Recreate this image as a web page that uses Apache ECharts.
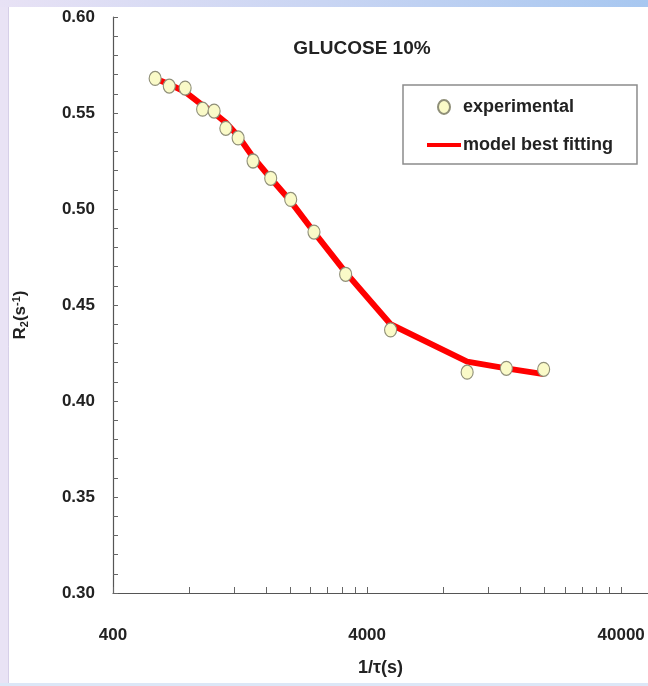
<!DOCTYPE html>
<html>
<head>
<meta charset="utf-8">
<script src="https://cdn.jsdelivr.net/npm/echarts@6/dist/echarts.min.js"></script>
<style>
  html, body { margin: 0; padding: 0; background: #fff; }
  #chart { width: 648px; height: 686px; }
</style>
</head>
<body>
<div id="chart"></div>
<script>
// Relaxation rate R2 versus exchange rate 1/tau, glucose 10 %
const tauInv = [586, 666, 769, 901, 1000, 1112, 1243, 1423, 1670, 2002, 2472, 3293, 4949, 9904, 14130, 19810];
const r2Experimental = [0.568, 0.564, 0.563, 0.552, 0.551, 0.542, 0.537, 0.525, 0.516, 0.505, 0.488, 0.466, 0.437, 0.415, 0.417, 0.4165];
const r2Model = [0.568, 0.565, 0.561, 0.554, 0.550, 0.545, 0.538, 0.527, 0.516, 0.504, 0.488, 0.467, 0.440, 0.4205, 0.417, 0.414];

// Log axis: labelled decades and the minor ticks in between
const xMin = 400;
const xMax = 51000;
const xLabels = [400, 4000, 40000];
const xTicks = [400, 800, 1200, 1600, 2000, 2400, 2800, 3200, 3600,
                4000, 8000, 12000, 16000, 20000, 24000, 28000, 32000, 36000, 40000];

const yMin = 0.30, yMax = 0.60, yStep = 0.05;

const lg = v => Math.log10(v);
const FONT = 'Liberation Sans, Arial, sans-serif';

const chart = echarts.init(document.getElementById('chart'), null, { renderer: 'canvas' });

chart.setOption({
  backgroundColor: '#ffffff',
  animation: false,
  graphic: [
    { type: 'rect', shape: { x: 0, y: 0, width: 9, height: 686 }, style: { fill: '#e9e3f5' }, silent: true },
    { type: 'line', shape: { x1: 8.5, y1: 7, x2: 8.5, y2: 686 }, style: { stroke: '#d6cfe8', lineWidth: 1 }, silent: true },
    { type: 'rect', shape: { x: 0, y: 0, width: 648, height: 7 },
      style: { fill: new echarts.graphic.LinearGradient(0, 0, 1, 0, [
        { offset: 0, color: '#e8e2f5' }, { offset: 0.5, color: '#c9d5f3' }, { offset: 1, color: '#a7c7f0' }]) },
      silent: true },
    { type: 'rect', shape: { x: 0, y: 683, width: 648, height: 3 }, style: { fill: '#dce7f7' }, silent: true }
  ],
  title: {
    text: 'GLUCOSE 10%',
    left: 362,
    top: 39,
    textAlign: 'center',
    padding: 0,
    textStyle: { fontFamily: FONT, fontSize: 19, fontWeight: 'bold', color: '#222' }
  },
  legend: {
    orient: 'vertical',
    left: 403,
    top: 85,
    padding: [13, 24, 10, 24],
    itemWidth: 34,
    itemHeight: 14,
    itemGap: 20,
    borderColor: '#8c8c8c',
    borderWidth: 1.5,
    backgroundColor: '#ffffff',
    textStyle: { fontFamily: FONT, fontSize: 18, fontWeight: 'bold', color: '#222', padding: [0, 0, 0, -3] },
    data: [
      { name: 'experimental', icon: 'path://M6,0 A6,7 0 1,1 6,14 A6,7 0 1,1 6,0 Z' },
      { name: 'model best fitting', icon: 'path://M0,0 H34 V4 H0 Z',
        itemStyle: { color: '#ff0000', borderWidth: 0 } }
    ]
  },
  grid: { left: 113, right: 0, top: 17, bottom: 93, containLabel: false },
  xAxis: {
    type: 'value',
    min: lg(xMin),
    max: lg(xMax),
    name: '1/τ(s)',
    nameLocation: 'middle',
    nameGap: 66,
    nameTextStyle: { fontFamily: FONT, fontSize: 18, fontWeight: 'bold', color: '#222' },
    axisLine: { show: true, lineStyle: { color: '#555', width: 1.2 } },
    axisTick: { show: true, inside: true, length: 6, lineStyle: { color: '#666' },
                customValues: xTicks.map(lg) },
    axisLabel: { show: true, margin: 34, fontFamily: FONT, fontSize: 17, fontWeight: 'bold', color: '#222',
                 customValues: xLabels.map(lg),
                 formatter: v => String(Math.round(Math.pow(10, v))) },
    splitLine: { show: false }
  },
  yAxis: {
    type: 'value',
    min: yMin,
    max: yMax,
    interval: yStep,
    name: 'R{sub|2}(s{sup|-1})',
    nameLocation: 'middle',
    nameGap: 83,
    nameRotate: 90,
    nameTextStyle: {
      fontFamily: FONT, fontSize: 17, fontWeight: 'bold', color: '#222',
      padding: [0, 20, 0, 0],
      rich: {
        sub: { fontFamily: FONT, fontSize: 11, fontWeight: 'bold', color: '#222', verticalAlign: 'bottom', padding: [8, 0, 0, 0] },
        sup: { fontFamily: FONT, fontSize: 11, fontWeight: 'bold', color: '#222', verticalAlign: 'top', padding: [0, 0, 8, 0] }
      }
    },
    axisLine: { show: true, lineStyle: { color: '#555', width: 1.2 } },
    axisTick: { show: true, inside: true, length: 5, lineStyle: { color: '#666' } },
    minorTick: { show: true, splitNumber: 5, length: 5, lineStyle: { color: '#666' } },
    axisLabel: { margin: 18, fontFamily: FONT, fontSize: 17, fontWeight: 'bold', color: '#222',
                 formatter: v => v.toFixed(2) },
    splitLine: { show: false }
  },
  series: [
    {
      name: 'model best fitting',
      type: 'line',
      data: tauInv.map((t, i) => [lg(t), r2Model[i]]),
      symbol: 'none',
      color: '#ff0000',
      lineStyle: { color: '#ff0000', width: 6 },
      z: 2
    },
    {
      name: 'experimental',
      type: 'scatter',
      data: tauInv.map((t, i) => [lg(t), r2Experimental[i]]),
      symbol: 'circle',
      symbolSize: [12, 14],
      itemStyle: { color: '#fafac8', borderColor: '#8f8f78', borderWidth: 1.2, opacity: 1 },
      z: 3
    }
  ]
});
</script>
</body>
</html>
